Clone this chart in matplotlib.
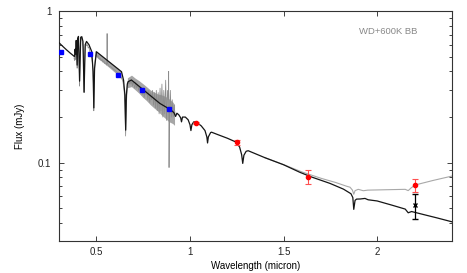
import matplotlib
matplotlib.use("Agg")
import matplotlib.pyplot as plt
from matplotlib.ticker import LogLocator, FixedLocator, NullFormatter, FixedFormatter

plt.rcParams['font.family'] = ['Liberation Sans', 'DejaVu Sans']

# WD model (black)
model_wave = [0.300, 0.320, 0.340, 0.360, 0.375, 0.383, 0.386, 0.389, 0.392, 0.397, 0.400, 0.404,
              0.410, 0.416, 0.422, 0.428, 0.434, 0.440, 0.447, 0.460, 0.475, 0.482, 0.4861, 0.490,
              0.500, 0.634, 0.645, 0.652, 0.6563, 0.660, 0.665, 0.669, 0.687, 0.839, 0.892,
              0.905, 0.915, 0.923, 0.930, 0.940, 0.950, 0.9546, 0.960, 0.975, 0.990, 1.000, 1.0049,
              1.010, 1.020, 1.035, 1.060, 1.080, 1.090, 1.0938, 1.098, 1.110, 1.115, 1.150, 1.200,
              1.245, 1.265, 1.276, 1.2818, 1.288, 1.300, 1.311, 1.400, 1.500, 1.587, 1.650, 1.748,
              1.820, 1.860, 1.870, 1.8751, 1.882, 1.890, 1.910, 1.935, 1.952, 2.000, 2.080, 2.150,
              2.166, 2.184, 2.250, 2.320, 2.400]
model_flux = [0.618, 0.585, 0.555, 0.528, 0.510, 0.500, 0.560, 0.520, 0.640, 0.440, 0.660, 0.680,
              0.345, 0.670, 0.677, 0.630, 0.292, 0.600, 0.630, 0.600, 0.540, 0.400, 0.230, 0.420,
              0.539, 0.398, 0.350, 0.280, 0.164, 0.280, 0.330, 0.342, 0.351, 0.246, 0.225,
              0.219, 0.213, 0.202, 0.212, 0.207, 0.198, 0.186, 0.200, 0.200, 0.192, 0.178, 0.163,
              0.178, 0.186, 0.185, 0.175, 0.163, 0.148, 0.135, 0.148, 0.158, 0.159, 0.153, 0.145,
              0.137, 0.127, 0.113, 0.099, 0.112, 0.119, 0.120, 0.108, 0.097, 0.0865, 0.0805, 0.0731,
              0.0670, 0.0625, 0.0590, 0.0493, 0.0565, 0.0576, 0.0577, 0.0582, 0.0570, 0.0560, 0.0525, 0.0495,
              0.0468, 0.0477, 0.0455, 0.0433, 0.0408]

# WD + 600K blackbody (grey)
bb_wave = [1.400, 1.500, 1.600, 1.700, 1.780, 1.837, 1.855, 1.868, 1.8751, 1.882, 1.899, 1.926,
           1.950, 2.050, 2.150, 2.166, 2.180, 2.202, 2.300, 2.400]
bb_flux = [0.108, 0.0972, 0.0868, 0.0790, 0.0740, 0.0700, 0.0690, 0.0660, 0.0620, 0.0655, 0.0668, 0.0654,
           0.0660, 0.0664, 0.0668, 0.0655, 0.0680, 0.0713, 0.0765, 0.0817]

# observed spectrum (grey, noisy)
obs_wave = [0.380, 0.384, 0.387, 0.389, 0.392, 0.395, 0.397, 0.399, 0.402, 0.405, 0.408, 0.410, 0.412,
            0.415, 0.418, 0.421, 0.425, 0.429, 0.432, 0.434, 0.436, 0.440, 0.444, 0.448, 0.452, 0.456,
            0.460, 0.465, 0.470, 0.475, 0.480, 0.484, 0.486, 0.488, 0.492, 0.496, 0.500, 0.505, 0.510,
            0.515, 0.520, 0.525, 0.530, 0.535, 0.540, 0.545, 0.550, 0.555, 0.557, 0.559, 0.565, 0.570,
            0.575, 0.580, 0.585, 0.590, 0.595, 0.600, 0.605, 0.610, 0.615, 0.620, 0.625, 0.630, 0.636,
            0.642, 0.648, 0.652, 0.656, 0.660, 0.664, 0.668, 0.672, 0.676, 0.680, 0.684, 0.688, 0.692,
            0.696, 0.700, 0.705, 0.710, 0.715, 0.720, 0.725, 0.730, 0.735, 0.740, 0.745, 0.750, 0.755,
            0.760, 0.765, 0.770, 0.775, 0.780, 0.785, 0.790, 0.795, 0.800, 0.805, 0.810, 0.815, 0.820,
            0.825, 0.830, 0.835, 0.840, 0.845, 0.850, 0.855, 0.860, 0.865, 0.870, 0.875, 0.880, 0.884,
            0.886, 0.888, 0.890, 0.895, 0.900, 0.905, 0.910, 0.915, 0.920]
obs_flux = [0.49, 0.47, 0.55, 0.48, 0.62, 0.55, 0.42, 0.58, 0.66, 0.62, 0.45, 0.32, 0.45,
            0.64, 0.68, 0.66, 0.62, 0.58, 0.42, 0.29, 0.42, 0.58, 0.61, 0.59, 0.60, 0.57,
            0.58, 0.54, 0.52, 0.49, 0.44, 0.33, 0.22, 0.33, 0.46, 0.51, 0.52, 0.50, 0.51,
            0.48, 0.49, 0.47, 0.48, 0.46, 0.47, 0.45, 0.455, 0.44, 0.71, 0.45, 0.44, 0.43,
            0.43, 0.425, 0.42, 0.415, 0.41, 0.405, 0.40, 0.395, 0.39, 0.385, 0.38, 0.37, 0.36,
            0.34, 0.30, 0.24, 0.15, 0.24, 0.30, 0.33, 0.34, 0.33, 0.35, 0.33, 0.35, 0.32,
            0.34, 0.33, 0.31, 0.34, 0.31, 0.33, 0.30, 0.32, 0.29, 0.31, 0.28, 0.31, 0.27,
            0.30, 0.28, 0.30, 0.26, 0.30, 0.25, 0.29, 0.26, 0.30, 0.24, 0.29, 0.23, 0.30,
            0.22, 0.29, 0.21, 0.31, 0.22, 0.33, 0.20, 0.30, 0.21, 0.35, 0.19, 0.30, 0.26,
            0.40, 0.093, 0.19, 0.30, 0.20, 0.26, 0.20, 0.24, 0.21]

# envelope of the observed spectrum in the continuum stretches (nan = gap at H-alpha)
env_wave = [0.495, 0.520, 0.540, 0.560, 0.580, 0.600, 0.620, 0.635, 0.650,
            0.668, 0.690, 0.710, 0.730, 0.750, 0.770, 0.790, 0.810, 0.830, 0.850, 0.870, 0.890, 0.910, 0.920]
env_hi = [0.545, 0.518, 0.495, 0.473, 0.452, 0.432, 0.414, 0.392, float('nan'),
          0.360, 0.375, 0.358, 0.345, 0.330, 0.315, 0.300, 0.290, 0.282, 0.278, 0.272, 0.262, 0.250, 0.240]
env_lo = [0.500, 0.475, 0.452, 0.432, 0.412, 0.392, 0.374, 0.352, float('nan'),
          0.310, 0.315, 0.300, 0.285, 0.268, 0.255, 0.240, 0.228, 0.218, 0.205, 0.195, 0.185, 0.180, 0.175]

# photometry
blue_wave = [0.311, 0.466, 0.616, 0.746, 0.890]
blue_flux = [0.539, 0.523, 0.377, 0.300, 0.226]

red_wave = [1.030, 1.250, 1.632, 2.202]
red_flux = [0.183, 0.136, 0.0809, 0.0710]
red_err = [0.003, 0.006, 0.008, 0.007]

black_wave = [2.202]
black_flux = [0.0526]
black_err_lo = [0.0103]
black_err_hi = [0.0093]

fig = plt.figure(figsize=(4.67, 2.73), dpi=100)
ax = fig.add_axes([59/467, 1-241/273, (452-59)/467, (241-11)/273])

ax.fill_between(env_wave, env_lo, env_hi, color='#a6a6a6', lw=0, zorder=1)
ax.plot(obs_wave, obs_flux, color='#8c8c8c', lw=0.55, zorder=1.5)
ax.plot(bb_wave, bb_flux, color='#a8a8a8', lw=0.8, zorder=2)
ax.plot(model_wave, model_flux, color='#151515', lw=0.9, zorder=3)

ax.plot(blue_wave, blue_flux, ls='none', marker='s', ms=3.0, color='#0000ff', mec='#0000ff', zorder=5)
ax.errorbar(red_wave, red_flux, yerr=red_err, fmt='o', ms=3.0, color='#ff0000', ecolor='#ff5050',
            elinewidth=0.8, capsize=2, capthick=0.8, zorder=5)
ax.errorbar(black_wave, black_flux, yerr=[black_err_lo, black_err_hi], fmt='x', ms=3.5, mew=1.0,
            color='#000000', elinewidth=0.9, capsize=2, capthick=0.9, zorder=6)

ax.set_xlim(0.3, 2.4)
ax.set_yscale('log')
ax.set_ylim(0.0305, 1.0)

ax.xaxis.set_major_locator(FixedLocator([0.5, 1.0, 1.5, 2.0]))
ax.xaxis.set_major_formatter(FixedFormatter(['0.5', '1', '1.5', '2']))
ax.yaxis.set_major_locator(FixedLocator([0.1, 1.0]))
ax.yaxis.set_major_formatter(FixedFormatter(['0.1', '1']))
ax.yaxis.set_minor_locator(LogLocator(base=10, subs=[2, 3, 4, 5, 6, 7, 8, 9]))
ax.yaxis.set_minor_formatter(NullFormatter())

ax.tick_params(which='both', direction='in', top=True, right=True, labelsize=7, colors='#222222',
               width=0.6)
ax.tick_params(which='major', length=3.5)
ax.tick_params(axis='x', which='major', pad=4)
ax.tick_params(axis='y', which='major', pad=5.5)
ax.tick_params(which='minor', length=2)
for s in ax.spines.values():
    s.set_color('#333333')
    s.set_linewidth(0.8)

ax.set_xlabel('Wavelength (micron)', fontsize=7, labelpad=3)
ax.set_ylabel('Flux (mJy)', fontsize=7, labelpad=9)
ax.text(0.913, 0.91, 'WD+600K BB', transform=ax.transAxes, ha='right', va='center',
        fontsize=6.8, color='#888888')

fig.savefig('out.png', dpi=100)
